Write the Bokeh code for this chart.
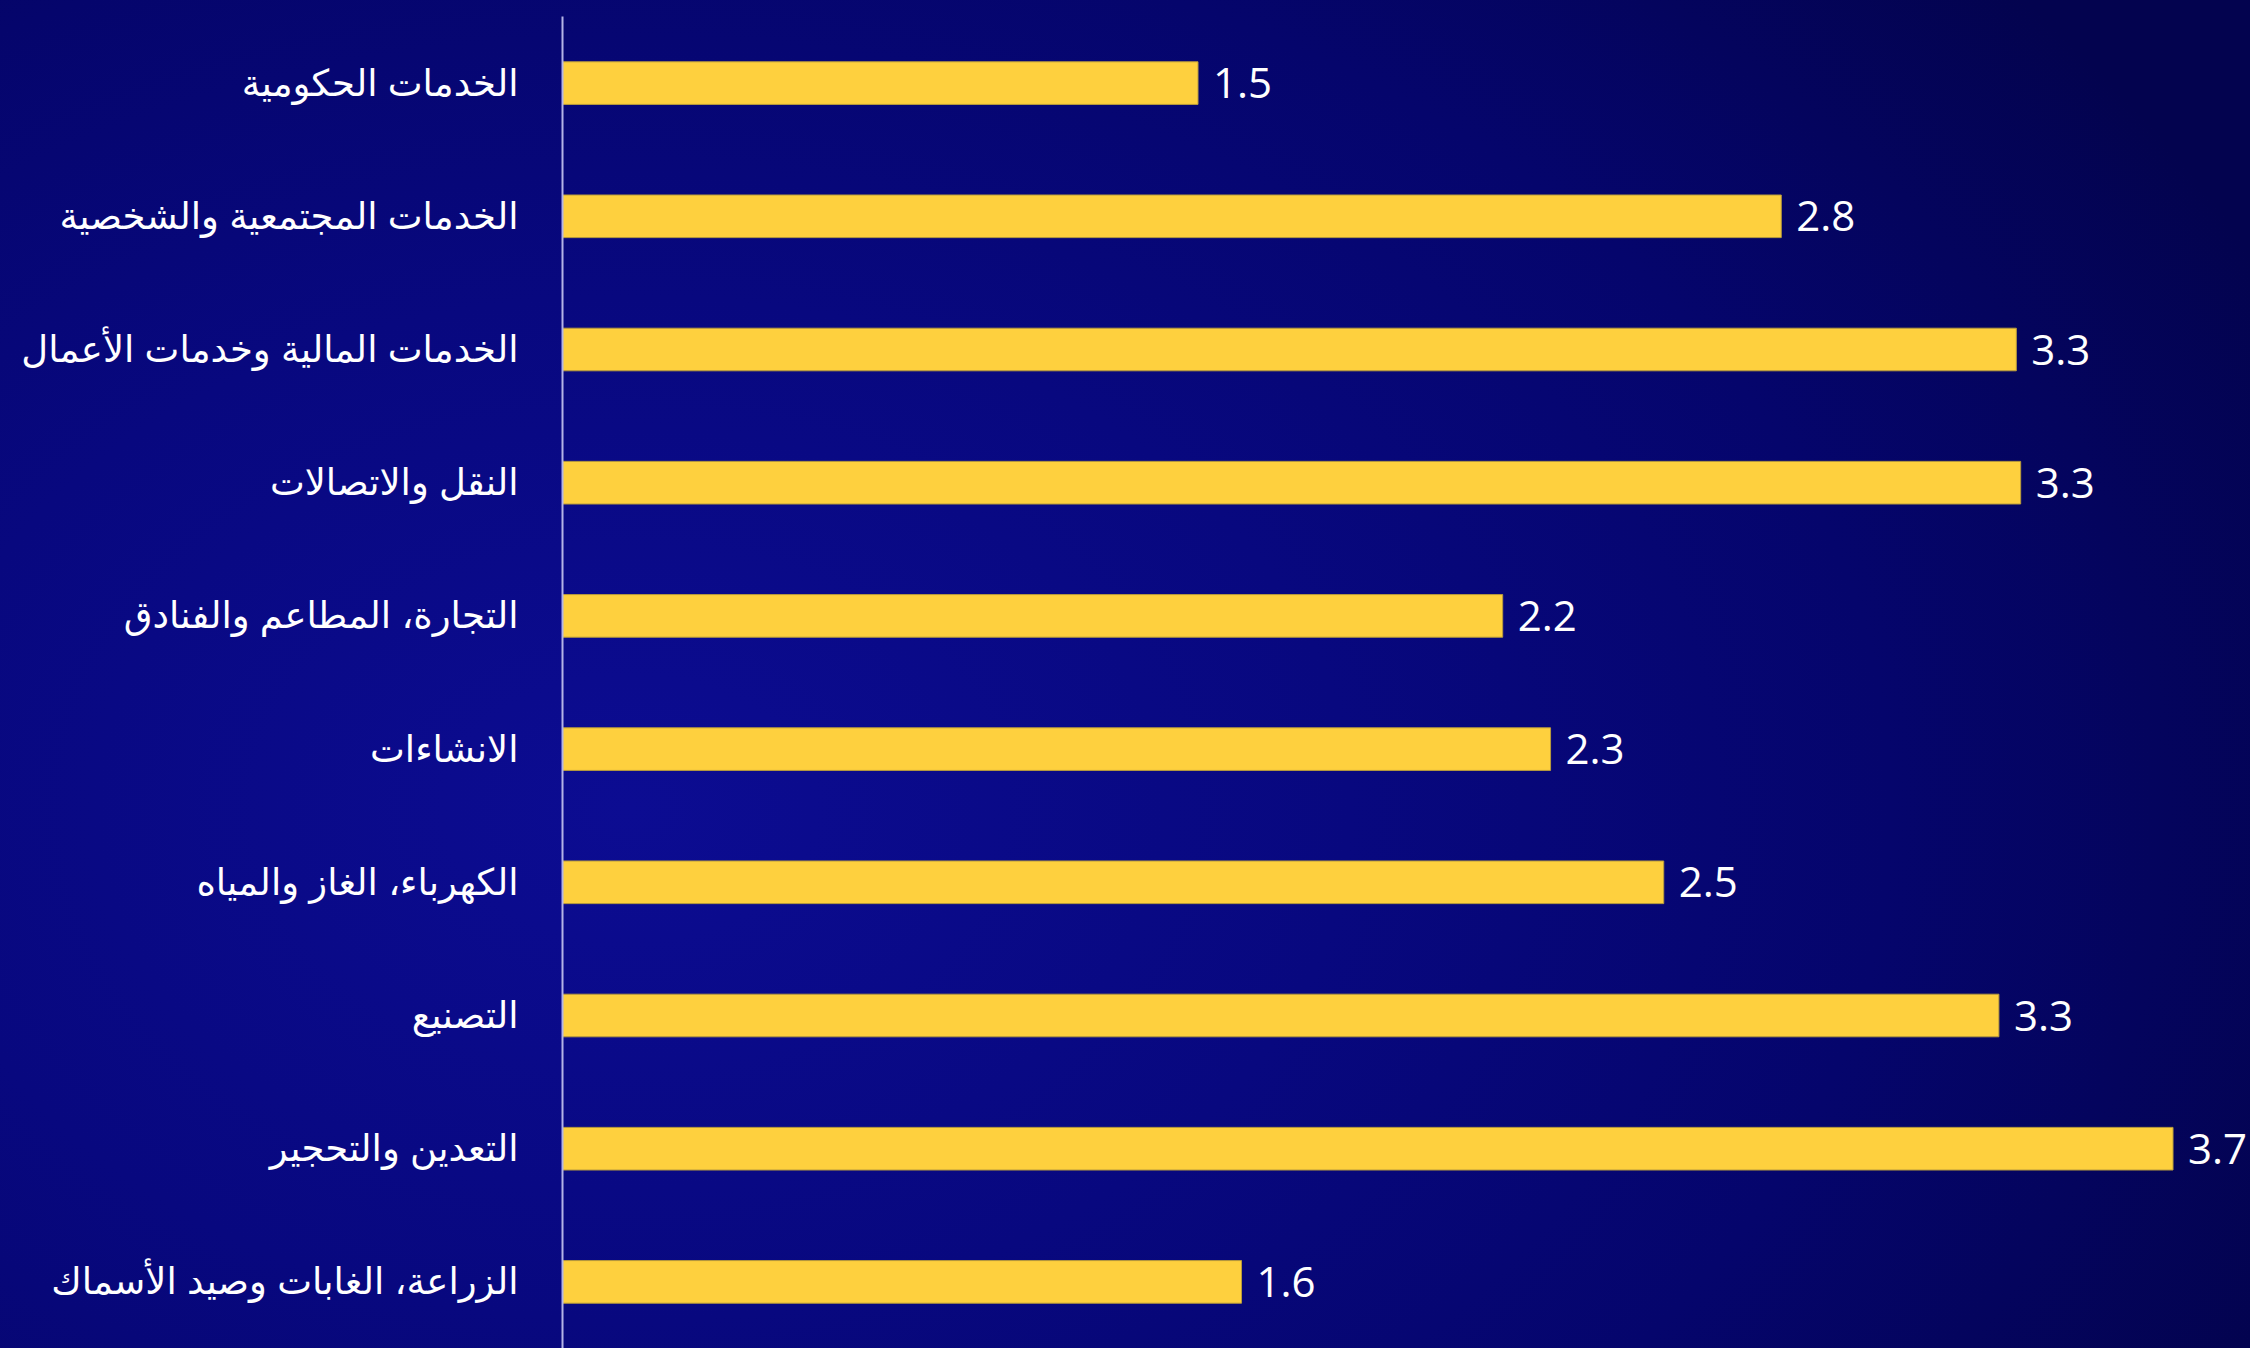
from bokeh.plotting import figure
from bokeh.models import Range1d, FactorRange, ColumnDataSource
from bokeh.core.properties import value
from bokeh.embed import file_html
from bokeh.resources import INLINE

# Categories, top to bottom
categories = [
    "الخدمات الحكومية",
    "الخدمات المجتمعية والشخصية",
    "الخدمات المالية وخدمات الأعمال",
    "النقل والاتصالات",
    "التجارة، المطاعم والفنادق",
    "الانشاءات",
    "الكهرباء، الغاز والمياه",
    "التصنيع",
    "التعدين والتحجير",
    "الزراعة، الغابات وصيد الأسماك",
]
values = [1.46, 2.80, 3.34, 3.35, 2.16, 2.27, 2.53, 3.30, 3.70, 1.56]
value_labels = ["1.5", "2.8", "3.3", "3.3", "2.2", "2.3", "2.5", "3.3", "3.7", "1.6"]

source = ColumnDataSource(dict(cat=categories, val=values, lab=value_labels))

p = figure(
    width=2250, height=1348,
    y_range=FactorRange(factors=list(reversed(categories)), range_padding=0),
    x_range=Range1d(0, 3.878),
    output_backend="svg", toolbar_location=None,
    min_border_left=562, min_border_right=0, min_border_top=16, min_border_bottom=0,
)
p.background_fill_alpha = 0
p.border_fill_alpha = 0
p.outline_line_color = None
p.styles = {"background": "radial-gradient(ellipse 80% 95% at 28% 60%, #0c0c92 0%, #08087f 40%, #05056c 70%, #03034f 100%)"}

p.hbar(y="cat", left=0, right="val", height=0.32, source=source,
       fill_color="#FED03E", line_color="#B89B3C", line_width=1)

p.text(x="val", y="cat", text="lab", source=source, x_offset=15,
       text_baseline="middle", text_align="left", text_color="white",
       text_font=value("Open Sans"), text_font_size="42px")

p.xaxis.visible = False
p.xgrid.grid_line_color = None
p.ygrid.grid_line_color = None

yax = p.yaxis[0]
yax.axis_line_color = "#B4B4E6"
yax.axis_line_width = 2
yax.major_tick_line_color = None
yax.minor_tick_line_color = None
yax.major_label_text_color = "white"
yax.major_label_text_font = "Liberation Sans, DejaVu Sans, sans-serif"
yax.major_label_text_font_size = "37px"
yax.major_label_standoff = 38

open("out.html", "w").write(file_html(p, INLINE))
